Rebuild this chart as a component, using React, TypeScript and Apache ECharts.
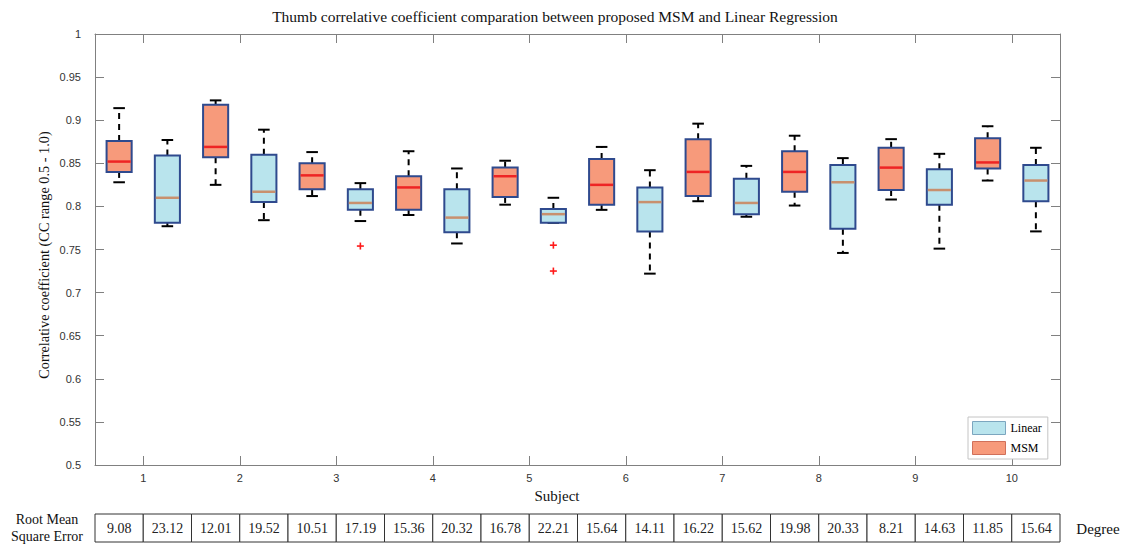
import React, { useEffect, useRef } from "react";
import * as echarts from "echarts";

const subjects = ["1", "2", "3", "4", "5", "6", "7", "8", "9", "10"];

// MSM boxes (left of each subject)
const msmLow = [0.828, 0.825, 0.812, 0.790, 0.802, 0.796, 0.806, 0.801, 0.808, 0.830];
const msmQ1 = [0.840, 0.857, 0.820, 0.796, 0.811, 0.802, 0.812, 0.817, 0.819, 0.844];
const msmMed = [0.852, 0.869, 0.836, 0.822, 0.835, 0.825, 0.840, 0.840, 0.845, 0.851];
const msmQ3 = [0.876, 0.918, 0.850, 0.835, 0.845, 0.855, 0.878, 0.864, 0.868, 0.879];
const msmHigh = [0.914, 0.923, 0.863, 0.864, 0.853, 0.869, 0.896, 0.882, 0.878, 0.893];

// Linear boxes (right of each subject)
const linLow = [0.777, 0.784, 0.783, 0.757, 0.781, 0.722, 0.788, 0.746, 0.751, 0.771];
const linQ1 = [0.781, 0.805, 0.796, 0.770, 0.781, 0.771, 0.791, 0.774, 0.802, 0.806];
const linMed = [0.810, 0.817, 0.804, 0.787, 0.791, 0.805, 0.804, 0.828, 0.819, 0.830];
const linQ3 = [0.859, 0.860, 0.820, 0.820, 0.797, 0.822, 0.832, 0.848, 0.843, 0.848];
const linHigh = [0.877, 0.889, 0.827, 0.844, 0.810, 0.842, 0.847, 0.856, 0.861, 0.868];

// Linear outliers: [subject index, value]
const linOutliers = [
  [2, 0.754],
  [4, 0.755],
  [4, 0.725],
];

// RMSE table, one cell per box (MSM, Linear, MSM, Linear, ...)
const rmse = [
  9.08, 23.12, 12.01, 19.52, 10.51, 17.19, 15.36, 20.32, 16.78, 22.21,
  15.64, 14.11, 16.22, 15.62, 19.98, 20.33, 8.21, 14.63, 11.85, 15.64,
];

const yTicks = { min: 0.5, max: 1, interval: 0.05 };

const SERIF = "'Liberation Serif', 'DejaVu Serif', serif";
const SANS = "'Liberation Sans', Arial, sans-serif";

const MSM_FILL = "#f79a7b";
const LIN_FILL = "#b9e4ed";
const BOX_EDGE = "#2f4a8e";

function boxRenderer(offset: number, fill: string, medColor: string) {
  return (params: any, api: any) => {
    const idx = api.value(0);
    const band = api.size([1, 0])[0];
    const cx = api.coord([idx, api.value(3)])[0] + offset * band;
    const y = (v: number) => api.coord([idx, v])[1];
    const lo = y(api.value(1));
    const q1 = y(api.value(2));
    const md = y(api.value(3));
    const q3 = y(api.value(4));
    const hi = y(api.value(5));
    const bw = band * 0.26;
    const cw = band * 0.12;
    const whisk = { stroke: "#000", lineWidth: 2, lineDash: [6, 5] };
    const cap = { stroke: "#000", lineWidth: 2 };
    return {
      type: "group",
      children: [
        { type: "line", shape: { x1: cx, y1: q3, x2: cx, y2: hi }, style: whisk },
        { type: "line", shape: { x1: cx, y1: q1, x2: cx, y2: lo }, style: whisk },
        { type: "line", shape: { x1: cx - cw / 2, y1: hi, x2: cx + cw / 2, y2: hi }, style: cap },
        { type: "line", shape: { x1: cx - cw / 2, y1: lo, x2: cx + cw / 2, y2: lo }, style: cap },
        {
          type: "rect",
          shape: { x: cx - bw / 2, y: q3, width: bw, height: q1 - q3 },
          style: { fill, stroke: BOX_EDGE, lineWidth: 2 },
        },
        {
          type: "line",
          shape: { x1: cx - bw / 2 + 1, y1: md, x2: cx + bw / 2 - 1, y2: md },
          style: { stroke: medColor, lineWidth: 2.5 },
        },
      ],
    };
  };
}

export default function App() {
  const ref = useRef<HTMLDivElement>(null);

  useEffect(() => {
    if (!ref.current) return;
    const chart = echarts.init(ref.current, undefined, { renderer: "svg" });

    const msmData = subjects.map((_, i) => [i, msmLow[i], msmQ1[i], msmMed[i], msmQ3[i], msmHigh[i]]);
    const linData = subjects.map((_, i) => [i, linLow[i], linQ1[i], linMed[i], linQ3[i], linHigh[i]]);
    const cellCats = rmse.map((_, i) => String(i));

    const frame = { show: true, lineStyle: { color: "#808080", width: 1 } };
    const tick = { show: true, inside: true, length: 9, lineStyle: { color: "#808080" } };

    chart.setOption({
      animation: false,
      backgroundColor: "#fff",
      grid: [
        { left: 95, top: 34, width: 965, height: 431 },
        { left: 95, top: 514, width: 965, height: 28 },
      ],
      legend: {
        orient: "vertical",
        left: 968,
        top: 417,
        itemWidth: 33,
        itemHeight: 13,
        itemGap: 6,
        padding: [4, 6, 4, 4],
        borderColor: "#c4c4c4",
        borderWidth: 1,
        backgroundColor: "#fff",
        selectedMode: false,
        textStyle: { fontFamily: SERIF, fontSize: 12, color: "#000" },
        data: [
          { name: "Linear", icon: "rect", itemStyle: { color: LIN_FILL, borderColor: "#7ca6bf", borderWidth: 1 } },
          { name: "MSM", icon: "rect", itemStyle: { color: MSM_FILL, borderColor: "#d0705a", borderWidth: 1 } },
        ],
      },
      xAxis: [
        {
          type: "category",
          data: subjects,
          gridIndex: 0,
          position: "bottom",
          boundaryGap: true,
          axisLine: frame,
          axisTick: { ...tick, alignWithLabel: true },
          axisLabel: { margin: 7, fontFamily: SANS, fontSize: 11, color: "#333" },
          splitLine: { show: false },
        },
        {
          type: "category",
          data: subjects,
          gridIndex: 0,
          position: "top",
          boundaryGap: true,
          axisLine: frame,
          axisTick: { ...tick, alignWithLabel: true },
          axisLabel: { show: false },
          splitLine: { show: false },
        },
        { type: "category", data: cellCats, gridIndex: 1, show: false, boundaryGap: true },
      ],
      yAxis: [
        {
          type: "value",
          gridIndex: 0,
          position: "left",
          ...yTicks,
          axisLine: frame,
          axisTick: tick,
          splitLine: { show: false },
          axisLabel: {
            margin: 14,
            fontFamily: SANS,
            fontSize: 11,
            color: "#333",
            padding: [0, 0, 6, 0],
            formatter: (v: number) => String(+v.toFixed(2)),
          },
        },
        {
          type: "value",
          gridIndex: 0,
          position: "right",
          ...yTicks,
          axisLine: frame,
          axisTick: tick,
          splitLine: { show: false },
          axisLabel: { show: false },
        },
        { type: "value", gridIndex: 1, min: 0, max: 1, show: false },
      ],
      series: [
        {
          name: "MSM",
          type: "custom",
          xAxisIndex: 0,
          yAxisIndex: 0,
          itemStyle: { color: MSM_FILL },
          renderItem: boxRenderer(-0.25, MSM_FILL, "#ee2424"),
          encode: { x: 0, y: [1, 2, 3, 4, 5] },
          data: msmData,
          z: 3,
        },
        {
          name: "Linear",
          type: "custom",
          xAxisIndex: 0,
          yAxisIndex: 0,
          itemStyle: { color: LIN_FILL },
          renderItem: boxRenderer(0.25, LIN_FILL, "#c8906e"),
          encode: { x: 0, y: [1, 2, 3, 4, 5] },
          data: linData,
          z: 3,
        },
        {
          name: "outliers",
          type: "custom",
          xAxisIndex: 0,
          yAxisIndex: 0,
          renderItem: (params: any, api: any) => {
            const idx = api.value(0);
            const band = api.size([1, 0])[0];
            const p = api.coord([idx, api.value(1)]);
            const cx = p[0] + 0.25 * band;
            const cy = p[1];
            const a = 3.5;
            const st = { stroke: "#ff1a1a", lineWidth: 1.6 };
            return {
              type: "group",
              children: [
                { type: "line", shape: { x1: cx - a, y1: cy, x2: cx + a, y2: cy }, style: st },
                { type: "line", shape: { x1: cx, y1: cy - a, x2: cx, y2: cy + a }, style: st },
              ],
            };
          },
          encode: { x: 0, y: 1 },
          data: linOutliers,
          z: 4,
        },
        {
          name: "RMSE",
          type: "custom",
          xAxisIndex: 2,
          yAxisIndex: 2,
          renderItem: (params: any, api: any) => {
            const cs = params.coordSys;
            const band = api.size([1, 0])[0];
            const cx = api.coord([api.value(0), 0.5])[0];
            return {
              type: "group",
              children: [
                {
                  type: "rect",
                  shape: { x: cx - band / 2, y: cs.y, width: band, height: cs.height },
                  style: { fill: "#fff", stroke: "#333", lineWidth: 1 },
                },
                {
                  type: "text",
                  x: cx,
                  y: cs.y + cs.height / 2,
                  style: {
                    text: Number(api.value(1)).toFixed(2),
                    align: "center",
                    verticalAlign: "middle",
                    fontFamily: SERIF,
                    fontSize: 14,
                    fill: "#222",
                  },
                },
              ],
            };
          },
          encode: { x: 0, y: 1 },
          data: rmse.map((v, i) => [i, v]),
        },
      ],
      graphic: [
        {
          type: "text",
          x: 555,
          y: 16,
          style: {
            text: "Thumb correlative coefficient comparation between proposed MSM and Linear Regression",
            align: "center",
            verticalAlign: "middle",
            fontFamily: SERIF,
            fontSize: 15.5,
            fill: "#111",
          },
        },
        {
          type: "text",
          x: 44,
          y: 255,
          rotation: Math.PI / 2,
          style: {
            text: "Correlative coefficient (CC range 0.5 - 1.0)",
            align: "center",
            verticalAlign: "middle",
            fontFamily: SERIF,
            fontSize: 14.3,
            fill: "#111",
          },
        },
        {
          type: "text",
          x: 557,
          y: 496,
          style: { text: "Subject", align: "center", verticalAlign: "middle", fontFamily: SERIF, fontSize: 15, fill: "#111" },
        },
        {
          type: "text",
          x: 47,
          y: 519,
          style: { text: "Root Mean", align: "center", verticalAlign: "middle", fontFamily: SERIF, fontSize: 14, fill: "#111" },
        },
        {
          type: "text",
          x: 47,
          y: 536,
          style: { text: "Square Error", align: "center", verticalAlign: "middle", fontFamily: SERIF, fontSize: 14, fill: "#111" },
        },
        {
          type: "text",
          x: 1098,
          y: 529,
          style: { text: "Degree", align: "center", verticalAlign: "middle", fontFamily: SERIF, fontSize: 15, fill: "#111" },
        },
      ],
    });

    return () => chart.dispose();
  }, []);

  return (
    <div
      ref={ref}
      style={{ position: "absolute", left: 0, top: 0, width: 1130, height: 545 }}
    />
  );
}
